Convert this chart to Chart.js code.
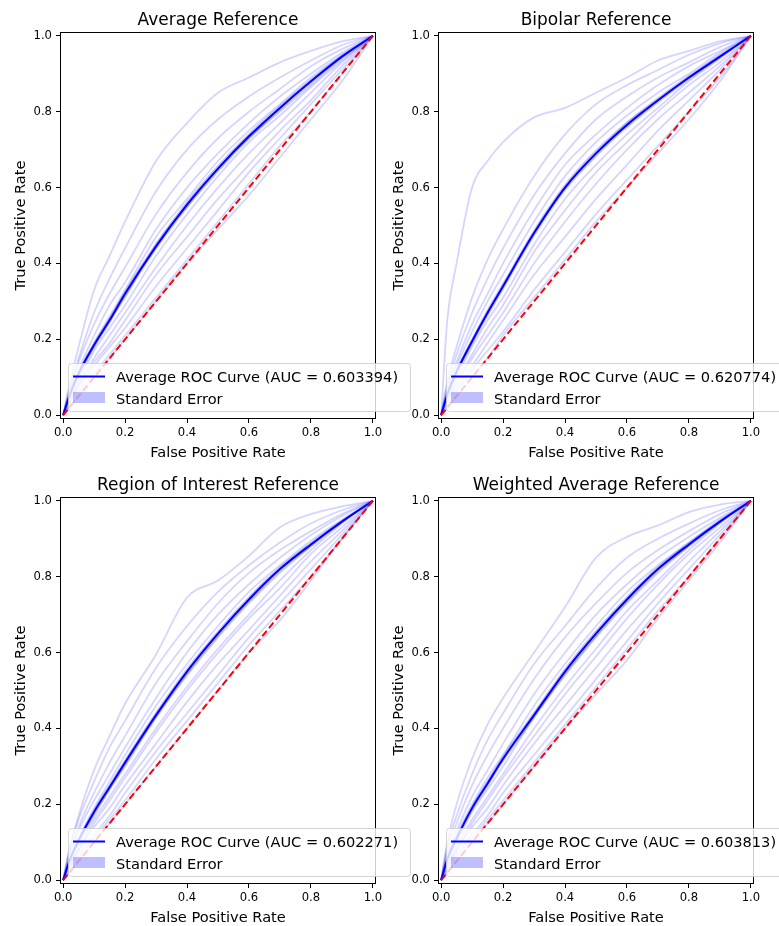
<!DOCTYPE html>
<html>
<head>
<meta charset="utf-8">
<script src="https://cdn.jsdelivr.net/npm/chart.js@4.4.0/dist/chart.umd.min.js"></script>
<style>
body { margin: 0; background: #fff; width: 779px; height: 926px; overflow: hidden; position: relative; }
canvas { position: absolute; left: 0; }
</style>
</head>
<body>
<canvas id="c0" width="779" height="465" style="top:0px"></canvas>
<canvas id="c1" width="779" height="465" style="top:0px"></canvas>
<canvas id="c2" width="779" height="461" style="top:465px"></canvas>
<canvas id="c3" width="779" height="461" style="top:465px"></canvas>
<script>
// false positive rate grid shared by every curve
const fpr = [0, 0.02, 0.05, 0.1, 0.15, 0.2, 0.3, 0.4, 0.5, 0.6, 0.7, 0.8, 0.9, 1.0];
const diagX = [0, 1];
const diagY = [0, 1];
const axisTicks = [0, 0.2, 0.4, 0.6, 0.8, 1.0];

const panelTitles = ['Average Reference', 'Bipolar Reference', 'Region of Interest Reference', 'Weighted Average Reference'];
const aucValues = [0.603394, 0.620774, 0.602271, 0.603813];

// average ROC curves (TPR at each fpr)
const avgRefMean = [0, 0.05, 0.11, 0.185, 0.25, 0.32, 0.445, 0.555, 0.65, 0.735, 0.81, 0.88, 0.945, 1];
const bipolarMean = [0, 0.055, 0.115, 0.195, 0.27, 0.34, 0.48, 0.60, 0.69, 0.765, 0.83, 0.89, 0.945, 1];
const roiMean = [0, 0.05, 0.105, 0.18, 0.245, 0.31, 0.435, 0.55, 0.65, 0.74, 0.82, 0.885, 0.945, 1];
const weightedMean = [0, 0.055, 0.11, 0.19, 0.255, 0.32, 0.435, 0.55, 0.65, 0.74, 0.82, 0.885, 0.945, 1];

// standard error around the average
const avgRefSe = [0, 0.006, 0.008, 0.009, 0.01, 0.01, 0.01, 0.01, 0.01, 0.009, 0.008, 0.007, 0.005, 0];
const bipolarSe = [0, 0.007, 0.009, 0.01, 0.011, 0.011, 0.011, 0.01, 0.01, 0.009, 0.008, 0.007, 0.005, 0];
const roiSe = [0, 0.006, 0.008, 0.009, 0.01, 0.01, 0.01, 0.01, 0.009, 0.009, 0.008, 0.007, 0.005, 0];
const weightedSe = [0, 0.006, 0.008, 0.009, 0.01, 0.01, 0.01, 0.01, 0.01, 0.009, 0.008, 0.007, 0.005, 0];

// individual ROC curves (faint lines)
const avgRefCurves = [
  [0, 0.08, 0.18, 0.33, 0.42, 0.51, 0.67, 0.77, 0.85, 0.89, 0.93, 0.96, 0.985, 1],
  [0, 0.07, 0.15, 0.27, 0.36, 0.44, 0.59, 0.70, 0.78, 0.84, 0.89, 0.935, 0.975, 1],
  [0, 0.06, 0.14, 0.24, 0.32, 0.39, 0.53, 0.64, 0.73, 0.80, 0.86, 0.92, 0.965, 1],
  [0, 0.06, 0.12, 0.21, 0.29, 0.35, 0.49, 0.60, 0.69, 0.77, 0.84, 0.90, 0.955, 1],
  [0, 0.05, 0.11, 0.19, 0.26, 0.33, 0.47, 0.57, 0.67, 0.75, 0.82, 0.89, 0.95, 1],
  [0, 0.05, 0.10, 0.18, 0.25, 0.31, 0.45, 0.55, 0.65, 0.73, 0.80, 0.87, 0.94, 1],
  [0, 0.04, 0.09, 0.17, 0.23, 0.29, 0.42, 0.53, 0.63, 0.72, 0.79, 0.865, 0.935, 1],
  [0, 0.04, 0.08, 0.15, 0.21, 0.27, 0.39, 0.50, 0.60, 0.69, 0.77, 0.85, 0.93, 1],
  [0, 0.03, 0.08, 0.14, 0.19, 0.25, 0.37, 0.47, 0.57, 0.66, 0.75, 0.83, 0.92, 1],
  [0, 0.03, 0.07, 0.13, 0.18, 0.23, 0.34, 0.44, 0.54, 0.64, 0.73, 0.82, 0.91, 1],
  [0, 0.02, 0.06, 0.11, 0.16, 0.21, 0.31, 0.41, 0.51, 0.61, 0.71, 0.80, 0.90, 1],
  [0, 0.02, 0.05, 0.10, 0.15, 0.20, 0.30, 0.40, 0.49, 0.58, 0.68, 0.78, 0.88, 1]
];
const bipolarCurves = [
  [0, 0.25, 0.40, 0.60, 0.67, 0.72, 0.785, 0.81, 0.85, 0.89, 0.935, 0.96, 0.985, 1],
  [0, 0.09, 0.18, 0.31, 0.41, 0.49, 0.63, 0.74, 0.82, 0.87, 0.91, 0.95, 0.98, 1],
  [0, 0.08, 0.16, 0.27, 0.36, 0.44, 0.58, 0.69, 0.78, 0.84, 0.89, 0.93, 0.97, 1],
  [0, 0.07, 0.14, 0.24, 0.32, 0.40, 0.54, 0.66, 0.74, 0.81, 0.87, 0.92, 0.96, 1],
  [0, 0.06, 0.13, 0.22, 0.30, 0.37, 0.51, 0.63, 0.72, 0.79, 0.85, 0.90, 0.955, 1],
  [0, 0.05, 0.11, 0.19, 0.27, 0.34, 0.48, 0.60, 0.69, 0.77, 0.83, 0.89, 0.95, 1],
  [0, 0.05, 0.10, 0.18, 0.25, 0.31, 0.45, 0.57, 0.66, 0.74, 0.81, 0.88, 0.94, 1],
  [0, 0.04, 0.09, 0.16, 0.23, 0.29, 0.43, 0.54, 0.64, 0.72, 0.80, 0.87, 0.93, 1],
  [0, 0.04, 0.08, 0.15, 0.21, 0.27, 0.40, 0.51, 0.61, 0.70, 0.78, 0.85, 0.92, 1],
  [0, 0.03, 0.07, 0.13, 0.19, 0.25, 0.37, 0.47, 0.57, 0.66, 0.75, 0.83, 0.91, 1],
  [0, 0.02, 0.06, 0.12, 0.17, 0.22, 0.33, 0.43, 0.53, 0.62, 0.71, 0.80, 0.89, 1],
  [0, 0.02, 0.05, 0.10, 0.15, 0.21, 0.31, 0.41, 0.51, 0.60, 0.69, 0.78, 0.88, 1]
];
const roiCurves = [
  [0, 0.08, 0.17, 0.29, 0.38, 0.465, 0.595, 0.745, 0.79, 0.855, 0.93, 0.965, 0.985, 1],
  [0, 0.08, 0.16, 0.26, 0.35, 0.42, 0.56, 0.67, 0.76, 0.83, 0.89, 0.94, 0.975, 1],
  [0, 0.07, 0.14, 0.23, 0.31, 0.38, 0.52, 0.63, 0.73, 0.81, 0.87, 0.92, 0.965, 1],
  [0, 0.06, 0.13, 0.21, 0.28, 0.35, 0.48, 0.60, 0.70, 0.78, 0.85, 0.91, 0.96, 1],
  [0, 0.05, 0.11, 0.19, 0.26, 0.33, 0.46, 0.57, 0.67, 0.76, 0.83, 0.895, 0.95, 1],
  [0, 0.05, 0.10, 0.17, 0.24, 0.30, 0.43, 0.54, 0.64, 0.73, 0.81, 0.88, 0.945, 1],
  [0, 0.04, 0.09, 0.16, 0.22, 0.28, 0.40, 0.51, 0.61, 0.70, 0.79, 0.87, 0.94, 1],
  [0, 0.04, 0.08, 0.15, 0.21, 0.27, 0.39, 0.50, 0.60, 0.69, 0.77, 0.86, 0.93, 1],
  [0, 0.03, 0.08, 0.14, 0.19, 0.25, 0.36, 0.47, 0.57, 0.66, 0.75, 0.84, 0.92, 1],
  [0, 0.03, 0.07, 0.12, 0.17, 0.23, 0.34, 0.44, 0.54, 0.64, 0.73, 0.82, 0.91, 1],
  [0, 0.02, 0.06, 0.11, 0.16, 0.21, 0.32, 0.42, 0.52, 0.62, 0.71, 0.80, 0.90, 1],
  [0, 0.02, 0.05, 0.10, 0.15, 0.20, 0.30, 0.40, 0.50, 0.60, 0.685, 0.79, 0.90, 1]
];
const weightedCurves = [
  [0, 0.10, 0.20, 0.32, 0.41, 0.48, 0.60, 0.72, 0.85, 0.905, 0.935, 0.97, 0.99, 1],
  [0, 0.09, 0.17, 0.28, 0.37, 0.44, 0.57, 0.67, 0.77, 0.85, 0.90, 0.94, 0.975, 1],
  [0, 0.08, 0.15, 0.25, 0.33, 0.40, 0.53, 0.64, 0.73, 0.81, 0.87, 0.92, 0.965, 1],
  [0, 0.07, 0.13, 0.22, 0.29, 0.36, 0.49, 0.60, 0.70, 0.78, 0.85, 0.905, 0.955, 1],
  [0, 0.06, 0.12, 0.20, 0.27, 0.33, 0.46, 0.57, 0.67, 0.76, 0.83, 0.89, 0.95, 1],
  [0, 0.05, 0.10, 0.18, 0.24, 0.30, 0.43, 0.54, 0.64, 0.73, 0.81, 0.88, 0.945, 1],
  [0, 0.04, 0.09, 0.16, 0.22, 0.28, 0.40, 0.51, 0.61, 0.71, 0.79, 0.87, 0.94, 1],
  [0, 0.04, 0.08, 0.15, 0.21, 0.27, 0.38, 0.49, 0.59, 0.69, 0.78, 0.86, 0.93, 1],
  [0, 0.03, 0.08, 0.14, 0.19, 0.25, 0.36, 0.46, 0.56, 0.66, 0.75, 0.84, 0.92, 1],
  [0, 0.03, 0.07, 0.12, 0.17, 0.23, 0.33, 0.43, 0.53, 0.63, 0.73, 0.82, 0.91, 1],
  [0, 0.02, 0.06, 0.11, 0.16, 0.21, 0.31, 0.41, 0.51, 0.61, 0.71, 0.80, 0.90, 1],
  [0, 0.02, 0.05, 0.10, 0.15, 0.20, 0.30, 0.40, 0.49, 0.58, 0.69, 0.79, 0.89, 1]
];

const FONT = "'DejaVu Sans', sans-serif";
const BLUE = '#0000ff';
const FAINT = 'rgba(0, 0, 255, 0.17)';
const SE_FILL = 'rgba(0, 0, 255, 0.25)';

function toPoints(xs, ys) {
  return xs.map((x, i) => ({x: x, y: ys[i]}));
}

// spines, titles, axis labels and the legend, matplotlib style
const mplDecor = {
  id: 'mplDecor',
  afterDraw(chart, args, opts) {
    const ctx = chart.ctx;
    const a = chart.chartArea;
    const cx = (a.left + a.right) / 2;
    const cy = (a.top + a.bottom) / 2;
    ctx.save();
    ctx.strokeStyle = '#000';
    ctx.lineWidth = 1;
    ctx.strokeRect(Math.round(a.left) + 0.5, Math.round(a.top) + 0.5,
      Math.round(a.right - a.left) - 1, Math.round(a.bottom - a.top) - 1);

    ctx.fillStyle = '#000';
    ctx.textAlign = 'center';
    ctx.textBaseline = 'alphabetic';
    ctx.font = '17px ' + FONT;
    ctx.fillText(opts.title, cx, a.top - 7);
    ctx.font = '14.6px ' + FONT;
    ctx.fillText('False Positive Rate', cx, a.bottom + 37.5);
    ctx.save();
    ctx.translate(a.left - 35, cy);
    ctx.rotate(-Math.PI / 2);
    ctx.fillText('True Positive Rate', 0, 0);
    ctx.restore();

    // legend, lower left inside the axes
    const meanDs = chart.data.datasets[1];
    const seDs = chart.data.datasets[3];
    const lx = a.left + 8, ly = a.bottom - 56, lw = 342, lh = 48;
    ctx.beginPath();
    ctx.roundRect(lx + 0.5, ly + 0.5, lw, lh, 3);
    ctx.fillStyle = 'rgba(255,255,255,0.8)';
    ctx.fill();
    ctx.strokeStyle = 'rgba(204,204,204,0.8)';
    ctx.stroke();
    ctx.strokeStyle = meanDs.borderColor;
    ctx.lineWidth = 2;
    ctx.beginPath();
    ctx.moveTo(lx + 5, ly + 13.5);
    ctx.lineTo(lx + 37, ly + 13.5);
    ctx.stroke();
    ctx.fillStyle = seDs.backgroundColor;
    ctx.fillRect(lx + 5, ly + 29, 32, 11);
    ctx.fillStyle = '#000';
    ctx.textAlign = 'left';
    ctx.font = '14.6px ' + FONT;
    ctx.fillText(meanDs.label, lx + 48, ly + 18.5);
    ctx.fillText(seDs.label, lx + 48, ly + 40.5);
    ctx.restore();
  }
};

function makePanel(id, idx, mean, se, curves, padL, padR, xH) {
  const lower = mean.map((v, i) => v - se[i]);
  const upper = mean.map((v, i) => v + se[i]);
  const datasets = [
    {label: 'Chance', data: toPoints(diagX, diagY), borderColor: '#ff0000', borderWidth: 2,
      borderDash: [7, 3.5], pointRadius: 0, order: 0, fill: false},
    {label: 'Average ROC Curve (AUC = ' + aucValues[idx].toFixed(6) + ')', data: toPoints(fpr, mean),
      borderColor: BLUE, borderWidth: 2, pointRadius: 0, order: 1, fill: false},
    {label: 'se low', data: toPoints(fpr, lower), borderWidth: 0, borderColor: 'rgba(0,0,0,0)',
      pointRadius: 0, order: 2, fill: false},
    {label: 'Standard Error', data: toPoints(fpr, upper), borderWidth: 0, borderColor: 'rgba(0,0,0,0)',
      backgroundColor: SE_FILL, pointRadius: 0, order: 2, fill: '-1'}
  ];
  curves.forEach((c, k) => {
    datasets.push({label: 'roc ' + k, data: toPoints(fpr, c), borderColor: FAINT, borderWidth: 1.8,
      pointRadius: 0, order: 3, fill: false});
  });

  const tickFont = {family: FONT, size: 11.6};
  const setTicks = s => { s.ticks = axisTicks.map(v => ({value: v})); };
  new Chart(document.getElementById(id).getContext('2d'), {
    type: 'line',
    data: {datasets: datasets},
    options: {
      responsive: false,
      animation: false,
      events: [],
      layout: {padding: {left: padL, right: padR, top: 32, bottom: 0}},
      elements: {line: {cubicInterpolationMode: 'monotone'}},
      plugins: {legend: {display: false}, tooltip: {enabled: false}, mplDecor: {title: panelTitles[idx]}},
      scales: {
        x: {
          type: 'linear', min: -0.01, max: 1.01,
          afterBuildTicks: setTicks,
          afterFit: s => { s.height = xH; },
          border: {display: false},
          grid: {drawOnChartArea: false, drawTicks: true, tickLength: 4, color: '#000', lineWidth: 1},
          ticks: {color: '#000', font: tickFont, padding: 3, maxRotation: 0, autoSkip: false,
            callback: v => v.toFixed(1)}
        },
        y: {
          type: 'linear', min: -0.01, max: 1.01,
          afterBuildTicks: setTicks,
          afterFit: s => { s.width = 60; },
          border: {display: false},
          grid: {drawOnChartArea: false, drawTicks: true, tickLength: 4, color: '#000', lineWidth: 1},
          ticks: {color: '#000', font: tickFont, padding: 4, autoSkip: false,
            callback: v => v.toFixed(1)}
        }
      }
    },
    plugins: [mplDecor]
  });
}

makePanel('c0', 0, avgRefMean, avgRefSe, avgRefCurves, 0, 403, 46);
makePanel('c1', 1, bipolarMean, bipolarSe, bipolarCurves, 378, 25, 46);
makePanel('c2', 2, roiMean, roiSe, roiCurves, 0, 403, 42);
makePanel('c3', 3, weightedMean, weightedSe, weightedCurves, 378, 25, 42);
</script>
</body>
</html>
